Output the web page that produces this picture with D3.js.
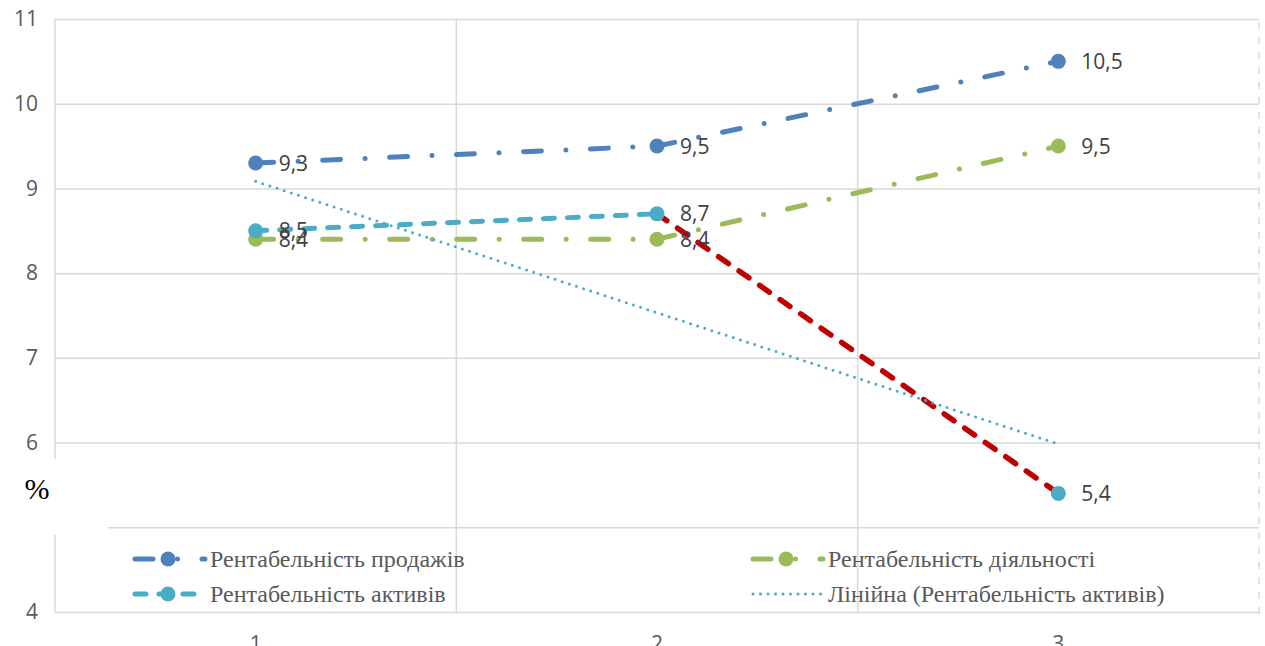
<!DOCTYPE html>
<html>
<head>
<meta charset="utf-8">
<script src="https://cdn.jsdelivr.net/npm/d3@7"></script>
<style>
  html, body { margin: 0; padding: 0; background: #fff; }
  svg { display: block; }
</style>
</head>
<body>
<svg id="chart" width="1265" height="646"></svg>
<script>
// ---- data ----
const categories = ["1", "2", "3"];
const yTicks = [4, 5, 6, 7, 8, 9, 10, 11];
const salesValues = [9.3, 9.5, 10.5];      // Рентабельність продажів
const activityValues = [8.4, 8.4, 9.5];    // Рентабельність діяльності
const assetsValues = [8.5, 8.7, 5.4];      // Рентабельність активів
const seriesNames = ["Рентабельність продажів", "Рентабельність діяльності", "Рентабельність активів"];
const trendName = "Лінійна (Рентабельність активів)";
const axisUnit = "%";

// ---- styles ----
const BLUE = "#4f81bd", GREEN = "#9bbb59", TEAL = "#4bacc6", RED = "#c00000";
const GRID = "#d9d9d9", TEXT = "#595959", LABEL = "#404040";
const DASH_DOT = "18,24.5,0,24.5";
const DASH = "11,13";
const DROP_SEGMENT = 1; // segment of the assets series drawn in red

const series = [
  { name: seriesNames[0], values: salesValues, color: BLUE, dash: DASH_DOT },
  { name: seriesNames[1], values: activityValues, color: GREEN, dash: DASH_DOT },
  { name: seriesNames[2], values: assetsValues, color: TEAL, dash: DASH, dropColor: RED }
];

const svg = d3.select("#chart");
const plotLeft = 55, plotRight = 1259, plotTop = 19, plotBottom = 612;

const x = d3.scaleBand().domain(categories).range([plotLeft, plotRight]).padding(0);
const cx = c => x(c) + x.bandwidth() / 2;
const y = d3.scaleLinear().domain([4, 11]).range([plotBottom, plotTop]);
const fmt = v => d3.format(".1f")(v).replace(".", ",");

// horizontal gridlines + value axis
const yAxis = svg.append("g")
  .attr("transform", `translate(${plotLeft},0)`)
  .call(d3.axisLeft(y).tickValues(yTicks).tickFormat(d3.format("d"))
    .tickSize(-(plotRight - plotLeft)).tickPadding(17));
yAxis.select(".domain").remove();
yAxis.selectAll("line").attr("stroke", GRID).attr("stroke-width", 1.5);
yAxis.selectAll("text").attr("fill", TEXT)
  .style("font-family", "'Open Sans', sans-serif").style("font-size", "21px");

// vertical gridlines at category boundaries
const edges = categories.map(c => x(c));
svg.append("g").selectAll("line").data(edges).join("line")
  .attr("x1", d => d).attr("x2", d => d).attr("y1", plotTop).attr("y2", plotBottom)
  .attr("stroke", GRID).attr("stroke-width", 1.5);
svg.append("line")
  .attr("x1", plotRight).attr("x2", plotRight).attr("y1", plotTop + 3).attr("y2", plotBottom + 2)
  .attr("stroke", GRID).attr("stroke-width", 1.5).attr("stroke-dasharray", "7,8");

// category axis
const xAxis = svg.append("g")
  .attr("transform", `translate(0,${plotBottom})`)
  .call(d3.axisBottom(x).tickSize(0).tickPadding(24));
xAxis.select(".domain").remove();
xAxis.selectAll("text").attr("fill", TEXT)
  .style("font-family", "'Open Sans', sans-serif").style("font-size", "21px");

// unit label box
svg.append("rect").attr("x", 0).attr("y", 459).attr("width", 108).attr("height", 76).attr("fill", "#fff");
svg.append("text").attr("x", 37).attr("y", 499).attr("text-anchor", "middle")
  .style("font-family", "'Liberation Serif', 'Times New Roman', serif").style("font-size", "30px")
  .attr("fill", "#000").text(axisUnit);

// series lines, one path per segment so each dash pattern restarts at a point
const line = d3.line().x(d => cx(d.c)).y(d => y(d.v));
const gLines = svg.append("g");
series.forEach(s => {
  const pts = s.values.map((v, i) => ({ c: categories[i], v }));
  for (let i = 0; i < pts.length - 1; i++) {
    const isDrop = s.dropColor && i === DROP_SEGMENT;
    gLines.append("path")
      .attr("d", line([pts[i], pts[i + 1]]))
      .attr("fill", "none")
      .attr("stroke", isDrop ? s.dropColor : s.color)
      .attr("stroke-width", isDrop ? 5.5 : 5)
      .attr("stroke-linecap", "round")
      .attr("stroke-dasharray", isDrop ? "12,13" : s.dash);
  }
});

// linear trend of the assets series (least squares)
const xs = assetsValues.map((v, i) => i + 1);
const mx = d3.mean(xs), my = d3.mean(assetsValues);
const slope = d3.sum(xs, (xi, i) => (xi - mx) * (assetsValues[i] - my)) / d3.sum(xs, xi => (xi - mx) ** 2);
const icpt = my - slope * mx;
const trendPts = [categories[0], categories[categories.length - 1]]
  .map((c, k) => ({ c, v: icpt + slope * (k === 0 ? 1 : categories.length) }));
svg.append("path")
  .attr("d", line(trendPts))
  .attr("fill", "none").attr("stroke", TEAL).attr("stroke-width", 3)
  .attr("stroke-linecap", "round").attr("stroke-dasharray", "0,7.5");

// markers and data labels
series.forEach(s => {
  svg.append("g").selectAll("circle").data(s.values).join("circle")
    .attr("cx", (d, i) => cx(categories[i])).attr("cy", d => y(d)).attr("r", 7.5)
    .attr("fill", s.color);
});
series.forEach(s => {
  svg.append("g").selectAll("text").data(s.values).join("text")
    .attr("x", (d, i) => cx(categories[i]) + 23).attr("y", d => y(d)).attr("dy", "0.36em")
    .attr("fill", LABEL)
    .style("font-family", "'Open Sans', sans-serif").style("font-size", "21px")
    .text(d => fmt(d));
});

// legend
const legendItems = [
  { name: series[0].name, color: BLUE, dash: DASH_DOT, marker: true, col: 0, row: 0 },
  { name: series[1].name, color: GREEN, dash: DASH_DOT, marker: true, col: 1, row: 0 },
  { name: series[2].name, color: TEAL, dash: DASH, marker: true, col: 0, row: 1 },
  { name: trendName, color: TEAL, dash: "0,7.5", marker: false, col: 1, row: 1 }
];
const colX = [132, 750], rowY = [559, 594];
const lg = svg.append("g");
legendItems.forEach(it => {
  const x0 = colX[it.col], yy = rowY[it.row];
  lg.append("line")
    .attr("x1", x0 + 3).attr("x2", x0 + 73).attr("y1", yy).attr("y2", yy)
    .attr("stroke", it.color).attr("stroke-width", it.marker ? 5 : 3)
    .attr("stroke-linecap", "round").attr("stroke-dasharray", it.dash);
  if (it.marker) {
    lg.append("circle").attr("cx", x0 + 36).attr("cy", yy).attr("r", 7.5).attr("fill", it.color);
  }
  lg.append("text").attr("x", x0 + 78).attr("y", yy).attr("dy", "0.33em")
    .attr("fill", TEXT)
    .style("font-family", "'Liberation Serif', 'Times New Roman', serif").style("font-size", "24px")
    .text(it.name);
});
</script>
</body>
</html>
